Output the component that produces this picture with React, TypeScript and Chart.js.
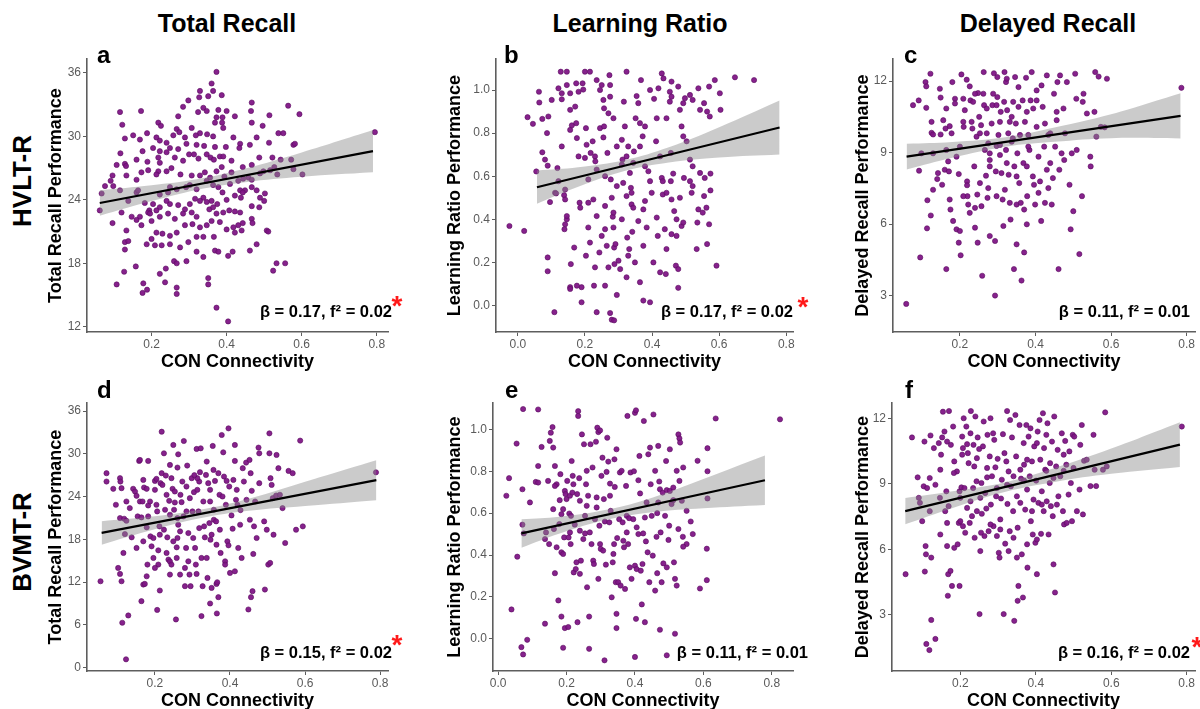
import React, { useEffect, useRef } from "react";
import { Chart, registerables } from "chart.js";

Chart.register(...registerables);

const FONT = "'Liberation Sans', Arial, Helvetica, sans-serif";

// ---------- Column / row labels ----------
const columnTitles = ["Total Recall", "Learning Ratio", "Delayed Recall"];
const rowLabels = ["HVLT-R", "BVMT-R"];
const panelLetters = ["a", "b", "c", "d", "e", "f"];
const statLabels = [
  "β = 0.17, f² = 0.02",
  "β = 0.17, f² = 0.02",
  "β = 0.11, f² = 0.01",
  "β = 0.15, f² = 0.02",
  "β = 0.11, f² = 0.01",
  "β = 0.16, f² = 0.02",
];
const significant = [true, true, false, true, false, true];
const yTitles = [
  "Total Recall Performance",
  "Learning Ratio Performance",
  "Delayed Recall Performance",
  "Total Recall Performance",
  "Learning Ratio Performance",
  "Delayed Recall Performance",
];
const xTitle = "CON Connectivity";

// ---------- Tick labels ----------
const xTicksMain = [0.2, 0.4, 0.6, 0.8];
const xTicksRatio = [0.0, 0.2, 0.4, 0.6, 0.8];
const yTicksTotalHvlt = [12, 18, 24, 30, 36];
const yTicksTotalBvmt = [0, 6, 12, 18, 24, 30, 36];
const yTicksRatio = [0.0, 0.2, 0.4, 0.6, 0.8, 1.0];
const yTicksDelayed = [3, 6, 9, 12];

// ---------- Scatter data: [CON connectivity, performance] ----------
const hvltTotalPts: [number, number][] = [
  [0.373,36.1],[0.36,35.0],[0.364,34.3],[0.329,34.3],[0.387,33.9],[0.351,33.8],[0.298,33.4],[0.327,33.7],[0.338,32.7],[0.284,32.8],
  [0.347,32.4],[0.324,32.3],[0.378,32.5],[0.4,32.4],[0.373,31.8],[0.389,31.8],[0.422,31.9],[0.467,33.2],[0.465,32.4],[0.514,32.0],
  [0.564,32.9],[0.594,32.1],[0.271,31.9],[0.116,32.3],[0.172,32.4],[0.122,31.1],[0.218,31.3],[0.225,31.0],[0.267,30.7],[0.274,30.4],
  [0.307,30.8],[0.329,30.3],[0.348,30.2],[0.364,30.0],[0.388,31.3],[0.369,31.3],[0.391,30.8],[0.418,29.9],[0.467,31.3],[0.496,31.0],
  [0.538,30.3],[0.551,30.3],[0.436,29.3],[0.462,29.2],[0.48,29.9],[0.513,29.4],[0.578,29.2],[0.582,29.3],[0.129,29.8],[0.151,30.1],
  [0.169,29.7],[0.188,30.3],[0.213,29.9],[0.222,29.6],[0.24,29.4],[0.258,30.1],[0.289,29.9],[0.293,29.3],[0.318,30.1],[0.32,29.2],
  [0.34,29.1],[0.369,29.0],[0.398,29.0],[0.347,28.3],[0.3,28.3],[0.271,28.8],[0.249,28.9],[0.24,28.5],[0.222,28.6],[0.204,28.9],
  [0.176,28.6],[0.117,28.4],[0.129,27.4],[0.132,27.2],[0.16,27.8],[0.189,27.6],[0.218,28.0],[0.222,27.5],[0.262,28.0],[0.284,27.7],
  [0.313,28.3],[0.325,27.9],[0.357,28.0],[0.366,27.8],[0.382,28.1],[0.391,28.1],[0.413,27.7],[0.434,28.9],[0.443,27.1],[0.467,27.3],
  [0.487,28.0],[0.522,28.0],[0.527,27.1],[0.544,27.8],[0.572,27.8],[0.602,26.4],[0.107,27.3],[0.096,26.3],[0.091,25.8],[0.076,25.3],
  [0.098,25.3],[0.133,26.3],[0.173,26.6],[0.16,25.9],[0.191,26.8],[0.218,26.7],[0.213,26.4],[0.24,26.7],[0.253,27.0],[0.277,26.4],
  [0.307,26.3],[0.329,26.3],[0.342,26.6],[0.356,26.1],[0.373,26.7],[0.387,27.1],[0.394,26.2],[0.413,26.6],[0.431,25.8],[0.444,26.0],
  [0.458,26.1],[0.467,25.9],[0.489,26.5],[0.498,26.7],[0.516,26.8],[0.535,26.4],[0.578,26.9],[0.062,23.0],[0.067,24.6],[0.116,24.9],
  [0.12,22.8],[0.138,23.9],[0.16,24.7],[0.164,24.9],[0.182,23.7],[0.194,23.0],[0.191,22.8],[0.204,23.6],[0.222,24.5],[0.244,24.7],
  [0.249,25.2],[0.267,25.0],[0.292,25.2],[0.302,25.4],[0.32,25.0],[0.347,25.8],[0.364,25.4],[0.378,25.2],[0.389,24.7],[0.409,25.5],
  [0.436,24.9],[0.449,24.9],[0.467,25.2],[0.48,24.9],[0.489,24.2],[0.502,24.6],[0.443,24.7],[0.422,24.4],[0.4,24.0],[0.375,23.6],
  [0.36,23.9],[0.347,23.8],[0.338,24.2],[0.329,23.9],[0.316,24.1],[0.302,23.6],[0.289,23.1],[0.271,23.5],[0.249,23.6],[0.24,23.9],
  [0.222,23.3],[0.213,23.0],[0.196,22.7],[0.169,22.4],[0.147,22.4],[0.096,21.8],[0.133,21.1],[0.16,22.1],[0.173,21.6],[0.2,22.0],
  [0.222,22.4],[0.244,22.7],[0.262,22.2],[0.284,22.7],[0.307,22.8],[0.32,22.4],[0.354,23.1],[0.364,23.3],[0.373,22.7],[0.391,22.8],
  [0.407,23.0],[0.422,22.9],[0.436,22.8],[0.467,23.4],[0.487,23.3],[0.5,23.9],[0.438,24.2],[0.467,22.2],[0.469,21.8],[0.443,21.8],
  [0.431,21.6],[0.418,21.4],[0.4,21.2],[0.382,21.9],[0.36,22.0],[0.347,21.6],[0.329,21.4],[0.309,21.7],[0.289,21.6],[0.267,20.9],
  [0.249,20.6],[0.229,20.8],[0.213,20.9],[0.2,20.3],[0.187,19.8],[0.209,19.7],[0.227,19.7],[0.249,19.8],[0.276,19.5],[0.298,20.0],
  [0.32,20.5],[0.338,20.5],[0.366,20.5],[0.369,19.2],[0.378,19.1],[0.404,18.7],[0.416,19.1],[0.422,20.9],[0.44,21.1],[0.462,19.2],
  [0.48,19.8],[0.507,21.1],[0.511,21.0],[0.524,17.3],[0.533,18.0],[0.556,18.0],[0.129,20.0],[0.138,20.1],[0.129,19.3],[0.107,16.0],
  [0.127,17.2],[0.158,17.7],[0.178,16.1],[0.176,15.2],[0.188,15.5],[0.222,17.0],[0.238,17.5],[0.26,18.2],[0.267,18.0],[0.236,16.2],
  [0.267,15.7],[0.267,15.1],[0.293,18.2],[0.32,19.1],[0.338,18.6],[0.351,16.6],[0.351,16.0],[0.373,13.8],[0.404,12.5],[0.795,30.4],
];

const hvltRatioPts: [number, number][] = [
  [-0.025,0.369],[0.019,0.346],[0.029,0.874],[0.045,0.843],[0.055,0.622],[0.063,0.992],[0.064,0.942],[0.073,0.866],[0.073,0.711],[0.089,0.649],
  [0.096,0.48],[0.089,0.223],[0.089,0.159],[0.111,0.523],[0.114,0.52],[0.118,0.638],[0.121,0.577],[0.131,0.957],[0.128,1.085],[0.146,1.085],
  [0.131,0.738],[0.138,0.512],[0.141,0.492],[0.141,0.377],[0.139,0.354],[0.146,0.4],[0.146,0.415],[0.141,0.538],[0.156,0.908],[0.156,0.815],
  [0.161,0.836],[0.158,0.192],[0.156,0.085],[0.168,0.269],[0.174,1.031],[0.174,0.846],[0.176,0.777],[0.181,0.692],[0.186,0.454],[0.19,0.085],
  [0.184,0.477],[0.195,1.002],[0.2,1.085],[0.203,0.823],[0.205,0.746],[0.2,0.685],[0.21,0.585],[0.21,0.477],[0.215,0.292],[0.217,0.708],
  [0.223,0.762],[0.227,0.092],[0.23,0.692],[0.23,0.177],[0.231,0.669],[0.235,0.631],[0.243,0.246],[0.245,0.823],[0.25,1.023],[0.255,0.954],
  [0.255,0.78],[0.257,0.831],[0.26,0.6],[0.26,0.462],[0.26,0.354],[0.26,0.092],[0.267,0.708],[0.27,0.177],[0.273,1.069],[0.275,1.023],
  [0.275,0.969],[0.277,0.585],[0.28,0.5],[0.283,0.412],[0.285,0.362],[0.287,0.269],[0.288,0.192],[0.291,0.285],[0.295,0.049],[0.295,0.554],
  [0.305,0.169],[0.31,0.769],[0.31,0.4],[0.312,0.677],[0.314,0.569],[0.316,0.946],[0.319,0.831],[0.324,1.085],[0.324,0.692],[0.329,0.738],
  [0.326,0.315],[0.329,0.231],[0.332,0.262],[0.334,0.615],[0.337,0.546],[0.339,0.523],[0.339,0.469],[0.341,0.342],[0.344,0.662],[0.346,0.715],
  [0.351,0.869],[0.354,0.972],[0.359,0.939],[0.359,0.392],[0.364,0.738],[0.367,1.046],[0.372,0.785],[0.374,0.446],[0.379,0.646],[0.384,0.362],
  [0.389,0.623],[0.394,0.015],[0.394,0.577],[0.399,0.523],[0.406,0.959],[0.412,0.762],[0.414,0.869],[0.414,0.408],[0.417,0.323],[0.419,1.008],
  [0.424,0.692],[0.429,0.592],[0.432,0.515],[0.438,0.354],[0.443,0.869],[0.443,0.523],[0.453,0.946],[0.456,0.708],[0.458,1.039],[0.463,0.612],
  [0.466,0.438],[0.471,0.185],[0.478,1.016],[0.483,0.908],[0.488,0.831],[0.495,0.592],[0.503,0.762],[0.513,0.677],[0.518,0.523],[0.521,0.646],
  [0.533,0.262],[0.535,0.385],[0.543,0.615],[0.551,0.431],[0.555,0.508],[0.557,0.592],[0.562,0.454],[0.564,0.285],[0.57,0.377],[0.572,0.877],
  [0.587,1.046],[0.592,0.185],[0.602,0.985],[0.604,0.908],[0.543,0.908],[0.493,0.785],[0.478,0.169],[0.488,0.369],[0.473,0.4],[0.458,0.492],
  [0.443,0.262],[0.424,0.154],[0.404,0.2],[0.374,0.277],[0.364,0.108],[0.349,0.2],[0.324,0.131],[0.3,0.208],[0.285,0.431],[0.265,0.277],
  [0.25,0.323],[0.235,0.415],[0.225,0.492],[0.21,0.362],[0.203,0.231],[0.19,0.015],[0.176,0.092],[0.156,0.077],[0.275,-0.035],[0.28,-0.066],
  [0.287,-0.069],[0.235,-0.031],[0.109,-0.031],[0.374,0.023],[0.379,0.485],[0.344,0.454],[0.324,0.508],[0.31,0.654],[0.295,0.738],[0.285,0.869],
  [0.27,0.892],[0.257,0.915],[0.245,1.0],[0.235,1.046],[0.215,1.085],[0.193,1.031],[0.181,0.992],[0.171,0.923],[0.156,0.985],[0.146,1.023],
  [0.131,0.985],[0.121,1.008],[0.101,0.954],[0.091,0.877],[0.087,0.8],[0.081,0.677],[0.364,0.846],[0.379,0.831],[0.394,1.0],[0.429,1.077],
  [0.434,1.054],[0.453,0.992],[0.458,0.969],[0.493,0.939],[0.498,0.962],[0.513,0.977],[0.521,0.954],[0.538,1.008],[0.555,0.939],[0.564,0.9],
  [0.57,1.016],[0.647,1.059],[0.704,1.046],[0.574,0.612],[0.574,0.534],[0.538,0.446],[0.521,0.554],[0.513,0.577],[0.473,0.323],[0.493,0.385],
  [0.458,0.331],[0.441,0.146],[0.478,0.082],[0.483,0.5],[0.456,0.577],[0.432,0.577],
];

const hvltDelayedPts: [number, number][] = [
  [0.058,2.65],[0.076,10.99],[0.091,11.19],[0.092,8.24],[0.095,4.6],[0.109,11.96],[0.111,11.78],[0.111,10.88],[0.114,7.0],[0.113,5.82],
  [0.123,6.36],[0.125,10.29],[0.125,9.83],[0.122,12.31],[0.129,8.97],[0.129,9.76],[0.14,7.89],[0.149,11.31],[0.149,9.76],[0.153,7.65],
  [0.156,10.36],[0.16,8.28],[0.162,10.01],[0.164,10.85],[0.164,9.11],[0.164,4.11],[0.169,8.63],[0.171,8.21],[0.173,10.11],[0.173,7.03],
  [0.175,6.61],[0.178,9.81],[0.18,11.96],[0.182,6.13],[0.187,11.26],[0.187,11.06],[0.191,5.78],[0.197,8.1],[0.197,5.22],[0.2,9.25],
  [0.2,5.71],[0.202,4.69],[0.204,12.28],[0.209,11.26],[0.209,10.29],[0.21,10.08],[0.218,12.06],[0.219,7.79],[0.219,7.63],[0.22,7.17],
  [0.222,6.82],[0.226,11.78],[0.228,11.19],[0.231,10.29],[0.233,10.01],[0.235,11.13],[0.238,8.42],[0.24,6.68],[0.244,9.67],[0.246,7.24],
  [0.247,5.22],[0.248,11.5],[0.251,10.5],[0.253,9.81],[0.256,10.15],[0.257,6.75],[0.259,3.83],[0.262,11.47],[0.263,12.38],[0.264,10.99],
  [0.266,9.11],[0.269,8.03],[0.271,10.85],[0.271,9.81],[0.273,7.1],[0.275,9.39],[0.279,8.42],[0.279,8.97],[0.284,10.22],[0.286,10.99],
  [0.288,11.47],[0.29,12.33],[0.293,3.0],[0.293,5.29],[0.295,8.21],[0.297,9.28],[0.299,12.17],[0.299,11.33],[0.302,9.74],[0.306,10.29],
  [0.306,8.9],[0.308,10.71],[0.31,8.14],[0.313,7.03],[0.315,5.92],[0.317,11.13],[0.318,12.38],[0.322,11.96],[0.322,9.11],[0.324,12.1],
  [0.325,10.78],[0.328,9.81],[0.329,8.07],[0.332,10.29],[0.334,6.19],[0.337,9.46],[0.34,9.6],[0.341,11.13],[0.343,4.11],[0.344,8.42],
  [0.346,12.17],[0.348,10.22],[0.35,6.82],[0.35,5.15],[0.352,8.97],[0.355,11.75],[0.357,7.72],[0.359,9.74],[0.361,6.89],[0.363,3.63],
  [0.366,11.19],[0.368,8.56],[0.37,4.81],[0.37,6.61],[0.372,10.29],[0.375,12.14],[0.377,10.71],[0.378,7.17],[0.381,9.74],[0.384,9.11],
  [0.387,11.19],[0.39,12.38],[0.393,8.0],[0.394,10.85],[0.396,7.65],[0.399,6.82],[0.403,10.08],[0.408,8.83],[0.412,7.79],[0.415,6.13],
  [0.416,11.82],[0.419,10.92],[0.423,9.25],[0.425,6.89],[0.43,12.24],[0.434,9.74],[0.439,8.56],[0.443,6.82],[0.446,7.93],[0.449,11.47],
  [0.452,9.25],[0.456,10.36],[0.458,11.96],[0.461,4.11],[0.463,8.28],[0.469,8.97],[0.474,10.85],[0.476,8.69],[0.483,11.96],[0.49,7.65],
  [0.493,5.78],[0.496,8.97],[0.5,6.54],[0.505,12.31],[0.508,11.26],[0.509,9.11],[0.516,4.74],[0.523,7.17],[0.525,11.13],[0.545,8.83],
  [0.546,8.42],[0.558,12.38],[0.561,9.67],[0.567,12.19],[0.589,12.1],[0.556,10.71],[0.583,10.06],[0.573,10.08],[0.786,11.72],[0.24,11.47],
  [0.213,10.78],[0.191,8.83],[0.147,11.68],[0.098,8.97],[0.129,7.44],[0.142,8.14],[0.275,7.51],[0.297,7.17],[0.319,7.44],[0.332,6.89],
  [0.381,9.25],[0.403,11.61],[0.425,10.22],[0.439,9.81],[0.465,12.24],[0.297,10.99],[0.306,9.32],[0.337,10.5],[0.355,10.92],[0.403,11.19],
  [0.408,7.31],[0.434,7.51],[0.43,8.28],[0.377,8.42],[0.35,8.0],[0.324,8.56],[0.279,8.69],[0.253,7.72],[0.226,6.47],[0.209,7.17],
  [0.279,5.5],[0.24,5.85],[0.377,5.99],[0.456,10.71],[0.527,11.47],[0.536,10.64],[0.478,9.81],
];

const bvmtTotalPts: [number, number][] = [
  [0.055,12.12],[0.071,26.11],[0.089,25.09],[0.096,22.85],[0.107,26.58],[0.108,26.11],[0.111,25.18],[0.107,20.98],[0.102,13.99],[0.107,13.15],
  [0.111,12.12],[0.116,16.09],[0.118,20.89],[0.12,18.74],[0.124,20.61],[0.129,7.32],[0.113,6.3],[0.138,18.28],[0.142,25.09],[0.147,24.71],
  [0.151,24.11],[0.154,21.22],[0.151,16.79],[0.158,29.0],[0.16,29.14],[0.16,23.31],[0.167,23.31],[0.169,26.34],[0.171,25.27],[0.178,25.09],
  [0.164,9.33],[0.169,11.66],[0.173,11.75],[0.18,14.46],[0.182,29.0],[0.182,22.75],[0.182,21.22],[0.187,23.31],[0.188,18.42],[0.191,17.02],
  [0.196,18.19],[0.2,26.2],[0.2,24.95],[0.204,26.48],[0.204,22.85],[0.206,21.92],[0.209,16.46],[0.209,14.46],[0.212,19.82],[0.213,10.82],
  [0.215,25.88],[0.218,33.1],[0.218,27.28],[0.22,25.64],[0.224,30.07],[0.224,19.35],[0.227,22.15],[0.229,26.95],[0.231,24.25],[0.231,16.09],
  [0.233,18.28],[0.236,15.16],[0.24,14.9],[0.238,23.41],[0.24,28.44],[0.244,26.58],[0.244,14.46],[0.247,25.09],[0.249,31.24],[0.249,17.72],
  [0.251,22.15],[0.253,24.71],[0.253,23.17],[0.256,6.76],[0.258,16.88],[0.258,15.39],[0.26,28.07],[0.26,18.19],[0.262,29.93],[0.262,20.05],
  [0.267,19.12],[0.267,13.06],[0.268,24.25],[0.271,23.22],[0.273,26.11],[0.276,21.22],[0.277,31.8],[0.28,13.99],[0.28,11.43],[0.283,16.79],
  [0.284,25.41],[0.286,28.35],[0.289,18.88],[0.289,14.92],[0.292,13.06],[0.293,23.78],[0.295,11.43],[0.298,26.58],[0.3,21.92],[0.302,18.19],
  [0.304,24.62],[0.307,16.79],[0.309,14.46],[0.311,30.68],[0.311,13.15],[0.313,24.95],[0.316,21.92],[0.318,26.11],[0.318,19.58],[0.32,27.42],
  [0.322,30.77],[0.324,15.39],[0.324,7.23],[0.327,11.43],[0.329,23.31],[0.331,19.82],[0.333,18.28],[0.336,27.04],[0.338,15.39],[0.34,12.59],
  [0.342,25.88],[0.345,20.28],[0.347,23.31],[0.348,17.95],[0.351,11.19],[0.354,31.1],[0.356,27.74],[0.357,22.15],[0.357,20.75],[0.36,26.2],
  [0.363,20.52],[0.364,17.25],[0.364,11.75],[0.366,11.98],[0.369,9.89],[0.369,27.28],[0.372,24.25],[0.373,19.35],[0.375,16.09],[0.378,32.64],
  [0.38,24.01],[0.382,30.21],[0.384,26.81],[0.387,14.92],[0.389,22.85],[0.391,26.2],[0.393,17.72],[0.396,33.57],[0.396,17.16],[0.398,25.41],
  [0.4,13.29],[0.404,21.36],[0.407,19.49],[0.409,26.34],[0.413,31.24],[0.413,29.0],[0.413,13.52],[0.416,23.55],[0.418,24.95],[0.42,22.85],
  [0.422,16.79],[0.427,20.05],[0.428,22.1],[0.431,15.39],[0.434,27.98],[0.437,26.11],[0.443,28.77],[0.444,23.55],[0.449,8.16],[0.452,29.14],
  [0.453,20.75],[0.455,27.28],[0.456,9.89],[0.458,24.81],[0.46,10.73],[0.462,15.95],[0.464,19.82],[0.467,23.31],[0.471,18.19],[0.476,30.87],
  [0.478,25.88],[0.478,30.07],[0.491,20.52],[0.493,10.96],[0.498,19.35],[0.502,14.46],[0.505,32.87],[0.505,30.07],[0.507,14.69],[0.508,26.58],
  [0.511,25.64],[0.514,23.78],[0.516,18.65],[0.523,24.15],[0.524,29.84],[0.529,27.98],[0.533,24.25],[0.54,22.38],[0.547,17.49],[0.556,27.6],
  [0.567,27.28],[0.576,19.35],[0.587,31.85],[0.594,19.82],[0.313,26.58],[0.178,19.68],[0.164,21.08],[0.284,21.92],[0.26,20.98],[0.24,21.45],
  [0.213,18.65],[0.169,17.72],[0.133,22.38],[0.124,23.31],[0.178,12.82],[0.2,13.99],[0.24,13.06],[0.305,27.0],[0.338,28.91],[0.347,24.95],
  [0.351,18.65],[0.387,14.46],[0.071,27.28],[0.196,15.39],[0.789,27.4],[0.123,1.17],[0.206,8.1],[0.347,9.0],[0.365,7.6],
];

const bvmtRatioPts: [number, number][] = [
  [0.024,0.683],[0.032,0.767],[0.039,0.14],[0.054,0.932],[0.056,0.392],[0.071,0.714],[0.071,0.545],[0.073,1.097],[0.075,0.503],[0.068,-0.04],
  [0.073,-0.075],[0.085,-0.005],[0.093,0.651],[0.11,0.749],[0.117,1.095],[0.117,0.825],[0.117,0.746],[0.127,0.916],[0.137,0.072],[0.137,0.476],
  [0.14,0.508],[0.146,0.754],[0.149,0.452],[0.151,0.945],[0.154,0.984],[0.159,1.011],[0.161,0.913],[0.161,0.619],[0.163,0.524],[0.166,0.313],
  [0.166,0.825],[0.171,0.738],[0.176,0.183],[0.179,0.548],[0.18,0.662],[0.182,0.786],[0.185,0.595],[0.185,0.106],[0.185,0.413],[0.19,0.405],
  [0.19,0.619],[0.19,-0.043],[0.193,0.484],[0.195,0.706],[0.195,0.051],[0.197,0.691],[0.2,0.667],[0.202,0.754],[0.205,0.056],[0.206,0.484],
  [0.208,0.598],[0.21,0.683],[0.212,0.452],[0.213,0.587],[0.215,0.849],[0.217,0.698],[0.218,0.778],[0.22,0.738],[0.221,0.317],[0.224,0.545],
  [0.227,0.333],[0.229,0.365],[0.231,0.691],[0.232,0.079],[0.234,1.087],[0.234,1.064],[0.237,0.767],[0.239,0.659],[0.239,0.31],[0.242,0.373],
  [0.245,0.976],[0.249,0.476],[0.251,0.929],[0.254,0.587],[0.254,0.503],[0.257,0.738],[0.259,0.802],[0.259,0.635],[0.26,0.246],[0.263,0.683],
  [0.266,0.106],[0.266,-0.048],[0.268,0.508],[0.27,0.929],[0.273,0.452],[0.276,0.818],[0.278,0.373],[0.28,0.357],[0.283,0.571],[0.286,0.941],
  [0.288,0.675],[0.29,1.008],[0.293,0.987],[0.293,0.286],[0.296,0.54],[0.298,0.995],[0.298,0.452],[0.3,0.429],[0.302,0.778],[0.305,0.865],
  [0.307,0.421],[0.309,0.667],[0.311,-0.103],[0.312,0.56],[0.315,0.354],[0.317,0.797],[0.319,0.96],[0.322,0.846],[0.325,0.556],[0.327,0.741],
  [0.329,0.611],[0.332,0.198],[0.335,0.365],[0.337,0.405],[0.339,0.452],[0.34,0.857],[0.341,0.725],[0.344,0.27],[0.346,0.905],[0.346,0.051],
  [0.348,0.481],[0.351,0.27],[0.354,0.571],[0.356,0.794],[0.358,0.254],[0.361,0.802],[0.364,0.556],[0.366,0.468],[0.368,0.437],[0.371,0.238],
  [0.374,0.73],[0.376,0.587],[0.378,1.064],[0.38,0.452],[0.383,0.576],[0.385,0.341],[0.387,0.794],[0.39,0.286],[0.395,0.571],[0.397,0.8],
  [0.4,1.079],[0.4,0.349],[0.403,1.091],[0.405,0.333],[0.41,0.757],[0.41,0.5],[0.413,0.873],[0.415,0.694],[0.417,0.325],[0.42,0.164],
  [0.422,0.357],[0.424,0.503],[0.426,1.04],[0.429,0.079],[0.429,0.579],[0.432,0.465],[0.434,0.651],[0.437,0.413],[0.439,0.881],[0.442,0.27],
  [0.444,0.913],[0.446,0.738],[0.449,0.587],[0.452,0.397],[0.454,1.071],[0.459,0.802],[0.465,0.6],[0.463,0.487],[0.465,0.313],[0.468,0.921],
  [0.468,0.651],[0.471,0.751],[0.473,0.714],[0.475,0.508],[0.481,0.698],[0.483,0.36],[0.488,0.587],[0.491,0.849],[0.493,0.71],[0.493,0.341],
  [0.498,0.472],[0.5,0.54],[0.502,0.905],[0.507,0.643],[0.512,0.662],[0.517,0.024],[0.522,0.802],[0.522,0.254],[0.527,0.524],[0.53,0.754],
  [0.537,0.659],[0.54,0.487],[0.541,0.818],[0.551,0.611],[0.473,0.043],[0.4,-0.087],[0.403,0.095],[0.493,-0.079],[0.502,0.706],[0.514,0.365],
  [0.517,0.286],[0.527,0.976],[0.53,0.957],[0.532,0.937],[0.551,0.452],[0.612,0.8],[0.612,0.91],[0.612,0.67],[0.61,0.43],[0.61,0.28],
  [0.59,0.24],[0.636,1.052],[0.824,1.048],[0.583,0.85],[0.569,0.5],[0.563,0.56],[0.541,0.44],[0.512,0.722],[0.346,0.119],[0.288,0.627],
  [0.239,0.516],[0.21,0.508],[0.171,0.437],[0.166,0.73],[0.327,0.683],[0.478,0.27],[0.459,0.23],[0.405,0.532],[0.376,0.508],
];

const bvmtDelayedPts: [number, number][] = [
  [0.055,4.86],[0.072,11.13],[0.087,9.3],[0.09,8.36],[0.093,8.13],[0.099,7.29],[0.103,8.89],[0.105,10.94],[0.106,4.98],[0.108,6.15],
  [0.109,5.77],[0.11,1.66],[0.118,1.38],[0.119,9.27],[0.119,7.75],[0.121,11.22],[0.123,5.62],[0.123,2.76],[0.134,1.89],[0.134,8.96],
  [0.143,10.87],[0.146,8.36],[0.147,6.68],[0.149,10.34],[0.152,11.13],[0.154,12.31],[0.158,11.4],[0.16,7.75],[0.163,8.66],[0.165,10.94],
  [0.165,6.15],[0.167,3.87],[0.168,4.86],[0.169,7.98],[0.17,12.34],[0.174,5.01],[0.175,10.79],[0.178,4.32],[0.181,11.63],[0.184,10.03],
  [0.184,6.07],[0.191,9.57],[0.193,6.23],[0.196,7.21],[0.198,4.32],[0.198,8.66],[0.2,7.29],[0.203,8.84],[0.205,11.17],[0.205,10.34],
  [0.207,10.64],[0.207,7.06],[0.209,12.01],[0.211,8.81],[0.213,6.76],[0.216,11.63],[0.218,10.82],[0.22,10.41],[0.222,9.95],[0.225,7.21],
  [0.227,11.32],[0.228,12.34],[0.231,7.52],[0.234,8.81],[0.235,10.79],[0.237,9.8],[0.238,6.53],[0.24,12.09],[0.243,9.12],[0.244,10.18],
  [0.246,11.13],[0.25,10.6],[0.251,3.03],[0.253,5.92],[0.255,6.76],[0.256,9.04],[0.257,7.63],[0.26,10.72],[0.262,11.86],[0.264,6.61],
  [0.266,8.58],[0.269,7.87],[0.271,9.3],[0.272,11.25],[0.275,6.83],[0.278,10.26],[0.28,12.01],[0.281,8.05],[0.284,9.35],[0.287,11.32],
  [0.288,7.06],[0.29,11.02],[0.293,9.76],[0.295,8.43],[0.297,6.61],[0.299,10.15],[0.302,5.84],[0.304,5.62],[0.306,7.37],[0.308,8.33],
  [0.31,9.19],[0.313,11.28],[0.315,3.03],[0.317,10.41],[0.319,6.26],[0.322,10.03],[0.324,12.34],[0.325,8.08],[0.328,9.57],[0.331,6.83],
  [0.332,11.93],[0.334,8.89],[0.337,11.13],[0.34,7.75],[0.341,9.35],[0.343,2.72],[0.346,12.16],[0.348,10.26],[0.35,8.43],[0.352,3.64],
  [0.352,6.99],[0.354,4.32],[0.357,11.7],[0.359,8.13],[0.361,9.24],[0.363,5.77],[0.366,3.79],[0.368,10.87],[0.369,9.88],[0.372,7.82],
  [0.375,11.7],[0.377,8.74],[0.378,5.16],[0.381,11.17],[0.384,9.35],[0.386,11.55],[0.387,7.29],[0.39,10.03],[0.392,6.68],[0.394,8.28],
  [0.396,10.72],[0.399,6.3],[0.401,9.15],[0.403,4.86],[0.405,11.4],[0.407,8.13],[0.41,11.93],[0.412,10.11],[0.414,6.71],[0.416,8.66],
  [0.419,12.24],[0.421,7.75],[0.422,10.64],[0.425,9.65],[0.428,11.25],[0.429,8.2],[0.431,11.78],[0.434,6.68],[0.437,9.04],[0.438,9.95],
  [0.44,7.98],[0.443,10.94],[0.445,7.52],[0.447,5.31],[0.449,12.09],[0.451,4.02],[0.454,9.8],[0.456,8.05],[0.458,10.56],[0.46,8.43],
  [0.465,9.35],[0.469,11.32],[0.472,7.75],[0.474,10.34],[0.475,7.14],[0.478,10.97],[0.481,9.88],[0.482,7.21],[0.487,8.51],[0.489,10.49],
  [0.493,9.04],[0.496,7.29],[0.498,11.25],[0.5,9.73],[0.502,11.17],[0.509,7.75],[0.516,8.74],[0.522,11.7],[0.525,7.6],[0.528,10.06],
  [0.553,11.25],[0.556,9.65],[0.56,8.9],[0.545,8.9],[0.578,9.65],[0.584,12.28],[0.588,9.8],[0.787,11.63],[0.474,9.6],[0.428,9.6],
  [0.403,10.87],[0.377,10.11],[0.324,8.96],[0.297,8.81],[0.271,9.73],[0.244,7.75],[0.218,7.9],[0.2,8.36],[0.183,9.5],[0.165,7.21],
  [0.147,9.65],[0.13,10.64],[0.112,8.81],[0.35,5.62],[0.377,6.23],[0.518,10.79],[0.535,10.11],[0.447,9.27],[0.416,8.05],[0.39,7.75],
  [0.369,9.15],[0.359,9.65],[0.341,6.53],[0.328,5.92],[0.306,6.91],[0.28,7.14],[0.253,8.36],[0.227,8.2],[0.403,6.45],
];

// ---------- Fitted regression lines ----------
const hvltTotalFitX = [0.062, 0.79];
const hvltTotalFitY = [23.7, 28.6];
const hvltRatioFitX = [0.057, 0.78];
const hvltRatioFitY = [0.549, 0.826];
const hvltDelayedFitX = [0.059, 0.784];
const hvltDelayedFitY = [8.83, 10.54];
const bvmtTotalFitX = [0.058, 0.79];
const bvmtTotalFitY = [18.9, 26.3];
const bvmtRatioFitX = [0.068, 0.78];
const bvmtRatioFitY = [0.503, 0.757];
const bvmtDelayedFitX = [0.054, 0.782];
const bvmtDelayedFitY = [7.75, 10.8];

// ---------- 95% confidence bands (read at a few x positions) ----------
const hvltTotalBandX = [0.062, 0.2, 0.32, 0.45, 0.6, 0.79];
const hvltTotalBandLo = [22.5, 23.88, 24.94, 25.67, 26.18, 26.6];
const hvltTotalBandHi = [24.9, 25.38, 25.94, 26.97, 28.48, 30.6];
const hvltRatioBandX = [0.057, 0.18, 0.32, 0.45, 0.6, 0.78];
const hvltRatioBandLo = [0.472, 0.551, 0.625, 0.664, 0.687, 0.701];
const hvltRatioBandHi = [0.626, 0.641, 0.675, 0.734, 0.827, 0.951];
const hvltDelayedBandX = [0.059, 0.18, 0.32, 0.45, 0.6, 0.784];
const hvltDelayedBandLo = [8.29, 8.785, 9.246, 9.453, 9.607, 9.59];
const hvltDelayedBandHi = [9.37, 9.445, 9.646, 10.053, 10.607, 11.49];
const bvmtTotalBandX = [0.058, 0.18, 0.32, 0.45, 0.6, 0.79];
const bvmtTotalBandLo = [17.25, 19.13, 20.95, 22.01, 22.68, 23.5];
const bvmtTotalBandHi = [20.55, 21.13, 22.15, 23.71, 26.08, 29.1];
const bvmtRatioBandX = [0.068, 0.18, 0.32, 0.45, 0.6, 0.78];
const bvmtRatioBandLo = [0.435, 0.503, 0.569, 0.604, 0.623, 0.639];
const bvmtRatioBandHi = [0.571, 0.583, 0.617, 0.674, 0.763, 0.875];
const bvmtDelayedBandX = [0.054, 0.18, 0.32, 0.45, 0.6, 0.782];
const bvmtDelayedBandLo = [7.15, 7.9, 8.64, 9.09, 9.46, 9.77];
const bvmtDelayedBandHi = [8.35, 8.66, 9.08, 9.73, 10.62, 11.83];

// ---------- Layout (pixels) ----------
type Box = { left: number; top: number; right: number; bottom: number };
type PanelSpec = {
  pts: [number, number][];
  fitX: number[];
  fitY: number[];
  bandX: number[];
  bandLo: number[];
  bandHi: number[];
  xRange: [number, number];
  yRange: [number, number];
  xTicks: number[];
  yTicks: number[];
  yDecimals: number;
  yTitle: string;
  canvas: Box;
  plot: Box;
};

const panels: PanelSpec[] = [
  {
    pts: hvltTotalPts, fitX: hvltTotalFitX, fitY: hvltTotalFitY,
    bandX: hvltTotalBandX, bandLo: hvltTotalBandLo, bandHi: hvltTotalBandHi,
    xRange: [0.028, 0.83], yRange: [11.5, 37.3], xTicks: xTicksMain, yTicks: yTicksTotalHvlt, yDecimals: 0,
    yTitle: yTitles[0],
    canvas: { left: 45, top: 50, right: 400, bottom: 373 }, plot: { left: 87, top: 58, right: 388, bottom: 332 },
  },
  {
    pts: hvltRatioPts, fitX: hvltRatioFitX, fitY: hvltRatioFitY,
    bandX: hvltRatioBandX, bandLo: hvltRatioBandLo, bandHi: hvltRatioBandHi,
    xRange: [-0.065, 0.82], yRange: [-0.123, 1.143], xTicks: xTicksRatio, yTicks: yTicksRatio, yDecimals: 1,
    yTitle: yTitles[1],
    canvas: { left: 444, top: 50, right: 805, bottom: 373 }, plot: { left: 496, top: 57, right: 793, bottom: 332 },
  },
  {
    pts: hvltDelayedPts, fitX: hvltDelayedFitX, fitY: hvltDelayedFitY,
    bandX: hvltDelayedBandX, bandLo: hvltDelayedBandLo, bandHi: hvltDelayedBandHi,
    xRange: [0.023, 0.822], yRange: [1.47, 12.92], xTicks: xTicksMain, yTicks: yTicksDelayed, yDecimals: 0,
    yTitle: yTitles[2],
    canvas: { left: 852, top: 50, right: 1200, bottom: 373 }, plot: { left: 893, top: 57, right: 1195, bottom: 332 },
  },
  {
    pts: bvmtTotalPts, fitX: bvmtTotalFitX, fitY: bvmtTotalFitY,
    bandX: bvmtTotalBandX, bandLo: bvmtTotalBandLo, bandHi: bvmtTotalBandHi,
    xRange: [0.019, 0.821], yRange: [-0.47, 37.1], xTicks: xTicksMain, yTicks: yTicksTotalBvmt, yDecimals: 0,
    yTitle: yTitles[3],
    canvas: { left: 45, top: 394, right: 400, bottom: 712 }, plot: { left: 87, top: 402, right: 388, bottom: 671 },
  },
  {
    pts: bvmtRatioPts, fitX: bvmtRatioFitX, fitY: bvmtRatioFitY,
    bandX: bvmtRatioBandX, bandLo: bvmtRatioBandLo, bandHi: bvmtRatioBandHi,
    xRange: [-0.015, 0.862], yRange: [-0.154, 1.125], xTicks: xTicksRatio, yTicks: yTicksRatio, yDecimals: 1,
    yTitle: yTitles[4],
    canvas: { left: 444, top: 394, right: 805, bottom: 712 }, plot: { left: 493, top: 402, right: 793, bottom: 671 },
  },
  {
    pts: bvmtDelayedPts, fitX: bvmtDelayedFitX, fitY: bvmtDelayedFitY,
    bandX: bvmtDelayedBandX, bandLo: bvmtDelayedBandLo, bandHi: bvmtDelayedBandHi,
    xRange: [0.019, 0.822], yRange: [0.42, 12.7], xTicks: xTicksMain, yTicks: yTicksDelayed, yDecimals: 0,
    yTitle: yTitles[5],
    canvas: { left: 852, top: 394, right: 1200, bottom: 712 }, plot: { left: 892, top: 402, right: 1195, bottom: 671 },
  },
];

const AXIS_COLOR = "#5e5e5e";
const TICK_COLOR = "#5a5a5a";
const POINT_FILL = "rgba(128,22,134,0.95)";
const POINT_EDGE = "#5a0c60";
const BAND_FILL = "rgba(140,140,140,0.45)";

function Panel({ spec }: { spec: PanelSpec }) {
  const ref = useRef<HTMLCanvasElement | null>(null);
  useEffect(() => {
    const canvas = ref.current;
    if (!canvas) return;
    const c = spec.canvas;
    const p = spec.plot;
    const chart = new Chart(canvas, {
      type: "scatter",
      data: {
        datasets: [
          {
            type: "line",
            data: spec.fitX.map((x, i) => ({ x, y: spec.fitY[i] })),
            borderColor: "#000000",
            borderWidth: 2.2,
            pointRadius: 0,
            fill: false,
            order: 1,
          } as any,
          {
            type: "line",
            data: spec.bandX.map((x, i) => ({ x, y: spec.bandHi[i] })),
            borderWidth: 0,
            borderColor: "rgba(0,0,0,0)",
            backgroundColor: BAND_FILL,
            pointRadius: 0,
            tension: 0.4,
            fill: "+1",
            order: 2,
          } as any,
          {
            type: "line",
            data: spec.bandX.map((x, i) => ({ x, y: spec.bandLo[i] })),
            borderWidth: 0,
            borderColor: "rgba(0,0,0,0)",
            pointRadius: 0,
            tension: 0.4,
            fill: false,
            order: 2,
          } as any,
          {
            type: "scatter",
            data: spec.pts.map(([x, y]) => ({ x, y })),
            backgroundColor: POINT_FILL,
            borderColor: POINT_EDGE,
            borderWidth: 0.6,
            pointRadius: 2.6,
            order: 3,
          } as any,
        ],
      },
      options: {
        animation: false,
        responsive: false,
        maintainAspectRatio: false,
        events: [],
        layout: {
          padding: { left: 0, bottom: 0, top: p.top - c.top, right: c.right - p.right },
        },
        plugins: { legend: { display: false }, tooltip: { enabled: false } },
        scales: {
          x: {
            type: "linear",
            min: spec.xRange[0],
            max: spec.xRange[1],
            afterBuildTicks: (s: any) => {
              s.ticks = spec.xTicks.map((v) => ({ value: v }));
            },
            afterFit: (s: any) => {
              s.height = c.bottom - p.bottom;
            },
            ticks: {
              autoSkip: false,
              maxRotation: 0,
              padding: 1,
              color: TICK_COLOR,
              font: { family: FONT, size: 12 },
              callback: (v: any) => Number(v).toFixed(1),
            },
            grid: { display: true, drawOnChartArea: false, drawTicks: true, tickLength: 4, color: AXIS_COLOR, lineWidth: 1 },
            border: { display: true, color: AXIS_COLOR, width: 1.6 },
            title: {
              display: true,
              text: xTitle,
              color: "#000000",
              padding: 0,
              font: { family: FONT, size: 18, weight: "bold" },
            },
          },
          y: {
            type: "linear",
            min: spec.yRange[0],
            max: spec.yRange[1],
            afterBuildTicks: (s: any) => {
              s.ticks = spec.yTicks.map((v) => ({ value: v }));
            },
            afterFit: (s: any) => {
              s.width = p.left - c.left;
            },
            ticks: {
              autoSkip: false,
              padding: 2,
              color: TICK_COLOR,
              font: { family: FONT, size: 12 },
              callback: (v: any) => Number(v).toFixed(spec.yDecimals),
            },
            grid: { display: true, drawOnChartArea: false, drawTicks: true, tickLength: 4, color: AXIS_COLOR, lineWidth: 1 },
            border: { display: true, color: AXIS_COLOR, width: 1.6 },
            title: {
              display: true,
              text: spec.yTitle,
              color: "#000000",
              padding: 0,
              font: { family: FONT, size: 18, weight: "bold" },
            },
          },
        },
      } as any,
    });
    return () => chart.destroy();
  }, [spec]);
  const w = spec.canvas.right - spec.canvas.left;
  const h = spec.canvas.bottom - spec.canvas.top;
  return (
    <canvas
      ref={ref}
      width={w}
      height={h}
      style={{ position: "absolute", left: spec.canvas.left, top: spec.canvas.top, width: w, height: h }}
    />
  );
}

// text placement helpers (page pixels)
const titleCentersX = [227, 640, 1048];
const titleCenterY = 23.3;
const letterPos = [
  [97, 63], [504, 63], [904, 63],
  [97, 398], [505, 398], [905, 398],
];
const statRight = [392, 793, 1190, 392, 808, 1190];
const statCenterY = [311, 311, 311, 652.5, 652.5, 652.5];
const starPos = [
  [397, 299], [803, 300], [0, 0],
  [397, 638], [0, 0], [1197, 640],
];
const rowCenters = [[21.7, 180.5], [21.7, 542]];

export default function App() {
  return (
    <div
      style={{
        position: "absolute",
        left: 0,
        top: 0,
        width: 1200,
        height: 709,
        overflow: "hidden",
        background: "#ffffff",
        fontFamily: FONT,
        color: "#000",
      }}
    >
      {panels.map((s, i) => (
        <Panel key={i} spec={s} />
      ))}
      {columnTitles.map((t, i) => (
        <div
          key={"t" + i}
          style={{
            position: "absolute",
            left: titleCentersX[i] - 150,
            width: 300,
            top: titleCenterY - 12.5,
            textAlign: "center",
            fontSize: 25,
            lineHeight: "25px",
            fontWeight: "bold",
            whiteSpace: "nowrap",
          }}
        >
          {t}
        </div>
      ))}
      {rowLabels.map((t, i) => (
        <div
          key={"r" + i}
          style={{
            position: "absolute",
            left: rowCenters[i][0],
            top: rowCenters[i][1],
            transform: "translate(-50%, -50%) rotate(-90deg)",
            fontSize: 26,
            lineHeight: "26px",
            fontWeight: "bold",
            whiteSpace: "nowrap",
          }}
        >
          {t}
        </div>
      ))}
      {panelLetters.map((t, i) => (
        <div
          key={"l" + i}
          style={{
            position: "absolute",
            left: letterPos[i][0],
            top: letterPos[i][1] - 20.3,
            fontSize: 24,
            lineHeight: "24px",
            fontWeight: "bold",
          }}
        >
          {t}
        </div>
      ))}
      {statLabels.map((t, i) => (
        <div
          key={"s" + i}
          style={{
            position: "absolute",
            left: statRight[i] - 300,
            width: 300,
            top: statCenterY[i] - 8.25,
            textAlign: "right",
            fontSize: 16.5,
            lineHeight: "16.5px",
            fontWeight: "bold",
            whiteSpace: "nowrap",
          }}
        >
          {t}
        </div>
      ))}
      {significant.map((sig, i) =>
        sig ? (
          <div
            key={"k" + i}
            style={{
              position: "absolute",
              left: starPos[i][0] - 5.5,
              top: starPos[i][1] - 7.5,
              fontSize: 28,
              lineHeight: "28px",
              fontWeight: "bold",
              color: "#ff1a1a",
            }}
          >
            *
          </div>
        ) : null
      )}
    </div>
  );
}
